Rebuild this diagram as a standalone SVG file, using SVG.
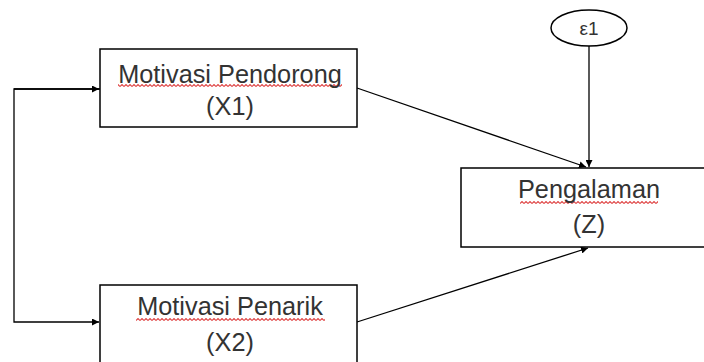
<svg xmlns="http://www.w3.org/2000/svg" width="704" height="362" viewBox="0 0 704 362">
<style>
.box{fill:#fff;stroke:#000;stroke-width:1.5}
.lbl{font-family:"Liberation Sans",Arial,sans-serif;font-size:25.3px;fill:#333;text-anchor:middle}
.eps{font-family:"Liberation Sans",Arial,sans-serif;font-size:19px;fill:#333;text-anchor:middle}
.con{fill:none;stroke:#000;stroke-width:1.3}
.sq{fill:url(#wavy)}
</style>
<defs>
<marker id="ah" viewBox="0 0 10 10" refX="10" refY="5" markerWidth="7" markerHeight="7" markerUnits="userSpaceOnUse" orient="auto">
<path d="M0,0 L10,5 L0,10 z" fill="#000"/>
</marker>
<pattern id="wavy" width="4" height="3" patternUnits="userSpaceOnUse">
<path d="M0,2.5 L2,0.5 L4,2.5" fill="none" stroke="#e04848" stroke-width="1.1"/>
</pattern>
</defs>
<rect width="704" height="362" fill="#fff"/>
<g id="connectors">
<path class="con" d="M100,89 H14 V322 H99" marker-end="url(#ah)"/>
<path class="con" d="M14,89 H99" marker-end="url(#ah)"/>
<path class="con" d="M357,88 L586,167" marker-end="url(#ah)"/>
<path class="con" d="M357,322 L588,248" marker-end="url(#ah)"/>
<path class="con" d="M589,46 V167" marker-end="url(#ah)"/>
</g>
<g id="x1">
<rect class="box" x="100" y="49" width="257" height="78"/>
<rect class="sq" x="118" y="84" width="224" height="3"/>
<text class="lbl" x="230" y="83">Motivasi Pendorong</text>
<text class="lbl" x="230" y="115">(X1)</text>
</g>
<g id="x2">
<rect class="box" x="100" y="285" width="257" height="90"/>
<rect class="sq" x="136" y="318" width="189" height="3"/>
<text class="lbl" x="230" y="315">Motivasi Penarik</text>
<text class="lbl" x="230" y="351">(X2)</text>
</g>
<g id="z">
<rect class="box" x="461" y="168" width="257" height="79"/>
<rect class="sq" x="520" y="201" width="138" height="3"/>
<text class="lbl" x="589" y="198">Pengalaman</text>
<text class="lbl" x="589" y="233">(Z)</text>
</g>
<g id="e1">
<ellipse class="box" cx="589" cy="28" rx="38" ry="18"/>
<text class="eps" x="589" y="35">ε1</text>
</g>
</svg>
